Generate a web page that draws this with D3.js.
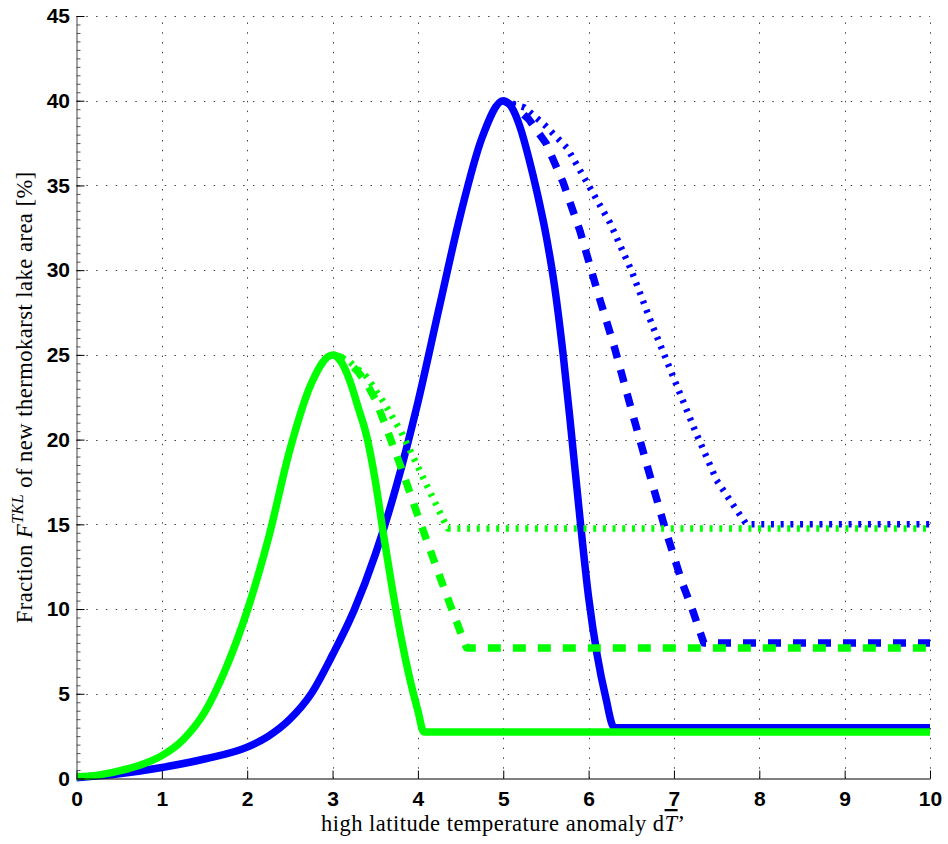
<!DOCTYPE html>
<html>
<head>
<meta charset="utf-8">
<script src="https://cdn.jsdelivr.net/npm/d3@7"></script>
<style>
  body { margin: 0; background: #fff; }
  svg { display: block; }
</style>
</head>
<body>
<div id="chart"></div>
<script>
// values: [dT, fraction %]
const blueSolid = [[0,0.05],[0.5,0.28],[1,0.65],[1.5,1.15],[2,1.85],[2.25,2.5],[2.5,3.5],[2.75,5.0],[3,7.3],
  [3.25,9.9],[3.5,13.2],[3.75,17.3],[4,22.2],[4.25,27.8],[4.5,33.3],[4.75,37.8],[5,40],
  [5.1,39.6],[5.2,38.4],[5.3,36.6],[5.4,34.5],[5.5,32.1],[5.6,29.1],[5.7,25.1],[5.8,20.3],
  [5.9,15.3],[6.0,10.7],[6.1,7.3],[6.2,4.8],[6.3,3.0],[10,3.0]];
const blueDashed = [[5,40],[5.15,39.6],[5.3,38.9],[5.5,37.5],[5.7,35.2],[5.9,32.3],[6.1,28.8],
  [6.3,25.5],[6.5,21.8],[6.7,18.2],[6.9,14.7],[7.1,11.5],[7.2,10.2],[7.35,8.0],[10,8.0]];
const blueDotted = [[5,40],[5.25,39.6],[5.5,38.5],[5.75,37.2],[6,35],[6.25,32.8],[6.5,30.0],
  [6.75,26.7],[7,23.6],[7.25,20.5],[7.5,17.6],[7.7,16.1],[7.85,15.0],[10,15.0]];

const greenSolid = [[0,0.1],[0.25,0.2],[0.5,0.45],[0.75,0.8],[1,1.35],[1.25,2.3],[1.5,3.9],
  [1.75,6.5],[2,9.9],[2.25,14.2],[2.5,19.4],[2.75,23.3],[3,25],
  [3.1,24.6],[3.2,23.5],[3.3,21.9],[3.4,20.2],[3.5,17.6],[3.6,14.3],[3.7,11.2],[3.8,8.4],
  [3.9,6.0],[4.0,4.0],[4.07,2.75],[10,2.75]];
const greenDashed = [[3,25],[3.1,24.85],[3.2,24.5],[3.3,24.0],[3.4,23.3],[3.5,22.4],[3.6,21.1],
  [3.8,18.4],[4.0,15.5],[4.2,12.7],[4.4,9.95],[4.57,7.7],[10,7.7]];
const greenDotted = [[3,25],[3.2,24.6],[3.4,23.7],[3.6,22.2],[3.8,20.5],[4.0,18.4],[4.2,16.3],
  [4.35,14.75],[10,14.75]];

const xTicks = [0,1,2,3,4,5,6,7,8,9,10];
const yTicks = [0,5,10,15,20,25,30,35,40,45];
const yMinorTicks = d3.range(0, 45.01, 0.5);

const
    width = 948,
    height = 844,
    margin = { top: 16, right: 18, bottom: 65.5, left: 76.5 },
    svg = d3.select("#chart").append("svg").attr("width", width).attr("height", height);

const colors = { blue: "#0000ff", green: "#00ff00" };

const x = d3.scaleLinear().domain([0, 10]).range([margin.left, width - margin.right]);
const y = d3.scaleLinear().domain([0, 45]).range([height - margin.bottom, margin.top]);

// dotted grid
const grid = svg.append("g").attr("stroke", "#444").attr("stroke-width", 1).attr("stroke-dasharray", "1.5,8.3");
grid.selectAll(".vgrid").data(xTicks.slice(1)).enter().append("line")
    .attr("x1", d => Math.round(x(d)) + 0.5).attr("x2", d => Math.round(x(d)) + 0.5)
    .attr("y1", y(0)).attr("y2", y(45));
grid.selectAll(".hgrid").data(yTicks.slice(1)).enter().append("line")
    .attr("y1", d => Math.round(y(d)) + 0.5).attr("y2", d => Math.round(y(d)) + 0.5)
    .attr("x1", x(0)).attr("x2", x(10));

const smooth = d3.line().x(d => x(d[0])).y(d => y(d[1])).curve(d3.curveMonotoneX);
const straight = d3.line().x(d => x(d[0])).y(d => y(d[1]));

function drawLine(data, color, style) {
    const p = svg.append("path")
        .datum(data)
        .attr("fill", "none")
        .attr("stroke", color)
        .attr("stroke-linejoin", "round");
    if (style === "solid") {
        p.attr("d", smooth).attr("stroke-width", 7.5);
    } else if (style === "dashed") {
        p.attr("d", straight).attr("stroke-width", 7.5).attr("stroke-dasharray", "13,12");
    } else {
        p.attr("d", straight).attr("stroke-width", 6.5).attr("stroke-dasharray", "3,6.7");
    }
}

drawLine(blueSolid, colors.blue, "solid");
drawLine(blueDashed, colors.blue, "dashed");
drawLine(blueDotted, colors.blue, "dotted");
drawLine(greenSolid, colors.green, "solid");
drawLine(greenDashed, colors.green, "dashed");
drawLine(greenDotted, colors.green, "dotted");

// axes (ticks pointing inward)
const tickFont = "bold 21px 'Liberation Sans', Arial, sans-serif";

const xAxis = svg.append("g")
    .attr("transform", `translate(0,${y(0)})`)
    .call(d3.axisBottom(x).tickValues(xTicks).tickSizeInner(-8).tickSizeOuter(0).tickPadding(12.5));
xAxis.select(".domain").attr("stroke", "#000");
xAxis.selectAll("text").style("font", tickFont).attr("fill", "#000");

svg.append("g")
    .attr("transform", `translate(${x(0)},0)`)
    .call(d3.axisLeft(y).tickValues(yMinorTicks).tickSizeInner(-4).tickSizeOuter(0).tickFormat(""))
    .call(g => g.select(".domain").remove())
    .selectAll("line").attr("stroke", "#555");

const yAxis = svg.append("g")
    .attr("transform", `translate(${x(0)},0)`)
    .call(d3.axisLeft(y).tickValues(yTicks).tickSizeInner(-8).tickSizeOuter(0).tickPadding(6.5));
yAxis.select(".domain").attr("stroke", "#444");
yAxis.selectAll("text").style("font", tickFont).attr("fill", "#000");

// axis titles
const titleFont = "'Liberation Serif', 'DejaVu Serif', serif";

const xTitle = svg.append("text")
    .attr("x", (x(0) + x(10)) / 2)
    .attr("y", 831)
    .attr("text-anchor", "middle")
    .style("font-family", titleFont)
    .style("font-size", "22.5px")
    .style("letter-spacing", "0.5px")
    .attr("fill", "#000");
xTitle.append("tspan").text("high latitude temperature anomaly d");
xTitle.append("tspan").style("font-style", "italic").style("text-decoration", "overline").text("T");
xTitle.append("tspan").text("\u2019");

const yTitle = svg.append("text")
    .attr("transform", `translate(32,${(y(0) + y(45)) / 2}) rotate(-90)`)
    .attr("text-anchor", "middle")
    .style("font-family", titleFont)
    .style("font-size", "22.5px")
    .style("letter-spacing", "0.5px")
    .attr("fill", "#000");
yTitle.append("tspan").text("Fraction ");
yTitle.append("tspan").style("font-style", "italic").text("F");
yTitle.append("tspan").style("font-style", "italic").style("font-size", "16px").attr("dy", "-9").text("TKL");
yTitle.append("tspan").attr("dy", "9").text(" of new thermokarst lake area [%]");
</script>
</body>
</html>
